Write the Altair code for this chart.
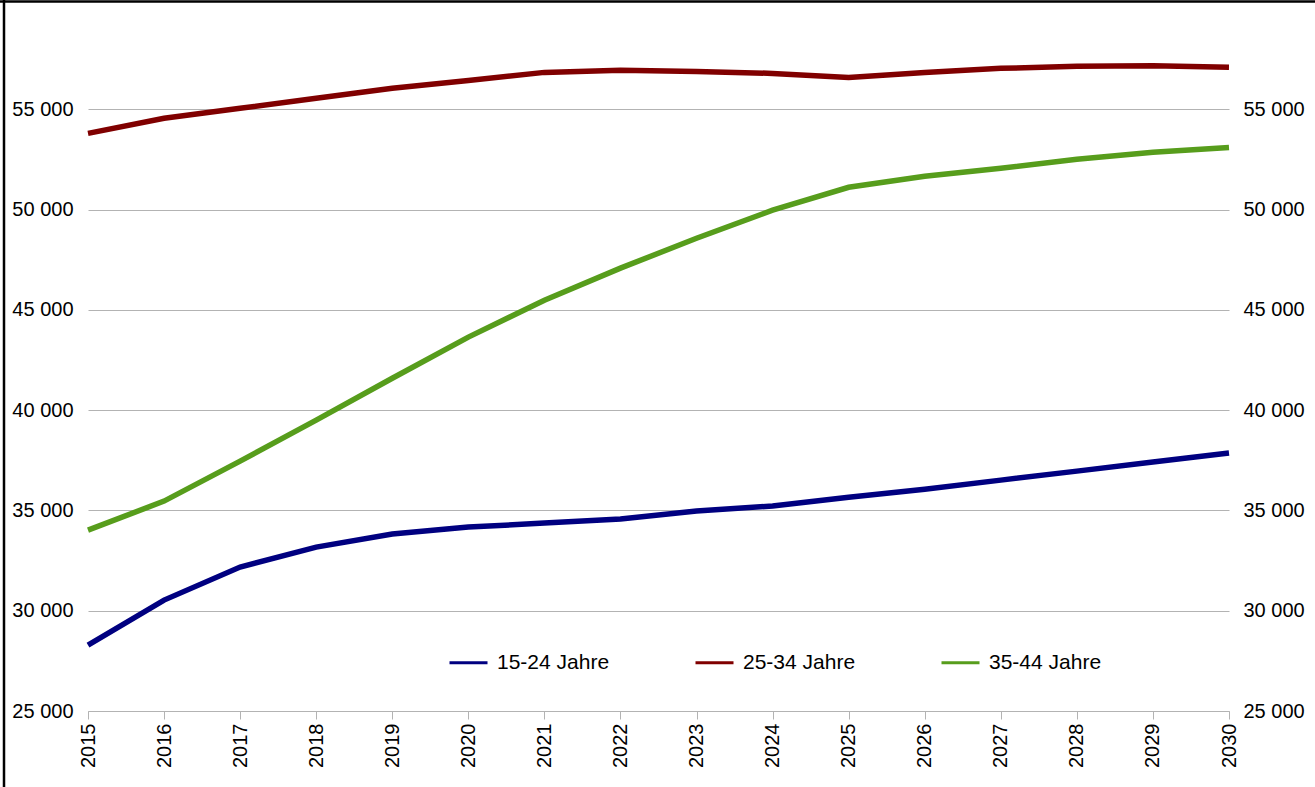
import altair as alt
import pandas as pd

# Bevölkerung nach Altersgruppe, Vorausberechnung 2015–2030
jahre = list(range(2015, 2031))
gruppen = ["15-24 Jahre", "25-34 Jahre", "35-44 Jahre"]
werte_15_24 = [28290, 30530, 32180, 33170, 33820, 34170, 34370, 34570,
               34970, 35220, 35660, 36060, 36510, 36960, 37410, 37860]
werte_25_34 = [53800, 54550, 55050, 55550, 56050, 56440, 56840, 56940,
               56890, 56790, 56590, 56840, 57040, 57140, 57170, 57090]
werte_35_44 = [34020, 35465, 37460, 39500, 41590, 43640, 45480, 47080,
               48570, 49970, 51110, 51660, 52060, 52510, 52860, 53100]
farben = ["#000080", "#800000", "#579d1c"]
y_ticks = [25000, 30000, 35000, 40000, 45000, 50000, 55000]

rows = []
for name, serie in zip(gruppen, [werte_15_24, werte_25_34, werte_35_44]):
    for j, v in zip(jahre, serie):
        rows.append({"Jahr": j, "Gruppe": name, "Wert": v})
df = pd.DataFrame(rows)

FONT = "Liberation Sans"
GRID = "#b3b3b3"
label_expr = "replace(format(datum.value, ','), ',', ' ')"

x_enc = alt.X(
    "Jahr:O",
    scale=alt.Scale(type="point", padding=0),
    axis=alt.Axis(
        title=None, labelAngle=-90, labelFontSize=20, labelFont=FONT,
        labelColor="#000000", tickColor=GRID, tickSize=8, tickWidth=1,
        domainColor=GRID, domainWidth=1, labelPadding=4, grid=False,
    ),
)
y_scale = alt.Scale(domain=[25000, 60000], nice=False, zero=False)

lines = alt.Chart(df).mark_line(strokeWidth=5.5).encode(
    x=x_enc,
    y=alt.Y(
        "Wert:Q", scale=y_scale,
        axis=alt.Axis(
            title=None, values=y_ticks, labelExpr=label_expr, orient="left",
            labelFontSize=20, labelFont=FONT, labelColor="#000000",
            ticks=False, domain=False, grid=True, gridColor=GRID,
            gridWidth=1, labelPadding=15,
        ),
    ),
    color=alt.Color(
        "Gruppe:N",
        scale=alt.Scale(domain=gruppen, range=farben),
        legend=alt.Legend(
            title=None, orient="none", direction="horizontal",
            legendX=360, legendY=633, symbolType="stroke",
            symbolSize=1444, symbolStrokeWidth=3, labelFontSize=21,
            labelFont=FONT, labelColor="#000000", columnPadding=79,
            labelOffset=8,
        ),
    ),
)

right_axis = alt.Chart(df).mark_line(opacity=0).encode(
    x=x_enc,
    y=alt.Y(
        "Wert:Q", scale=y_scale,
        axis=alt.Axis(
            title=None, values=y_ticks, labelExpr=label_expr, orient="right",
            labelFontSize=20, labelFont=FONT, labelColor="#000000",
            ticks=False, domain=False, grid=False, labelPadding=14,
        ),
    ),
    detail="Gruppe:N",
)

# outer frame lines (top and left edge of the chart box)
one = alt.Data(values=[{}])
frame_top = alt.Chart(one).mark_rule(color="#000000", strokeWidth=2.5).encode(
    x=alt.value(-90), x2=alt.value(1240), y=alt.value(-7.5)
)
frame_left = alt.Chart(one).mark_rule(color="#000000", strokeWidth=2.5).encode(
    x=alt.value(-84), y=alt.value(-10), y2=alt.value(800)
)

chart = (
    alt.layer(lines, right_axis, frame_top, frame_left)
    .resolve_axis(y="independent")
    .properties(
        width=1141, height=702,
        padding={"left": 88, "top": 9, "right": 86, "bottom": 76},
        autosize=alt.AutoSizeParams(type="none"),
        background="#ffffff",
    )
    .configure_view(stroke=None)
)

chart.save("out.html", embed_options={"renderer": "svg", "actions": False})
